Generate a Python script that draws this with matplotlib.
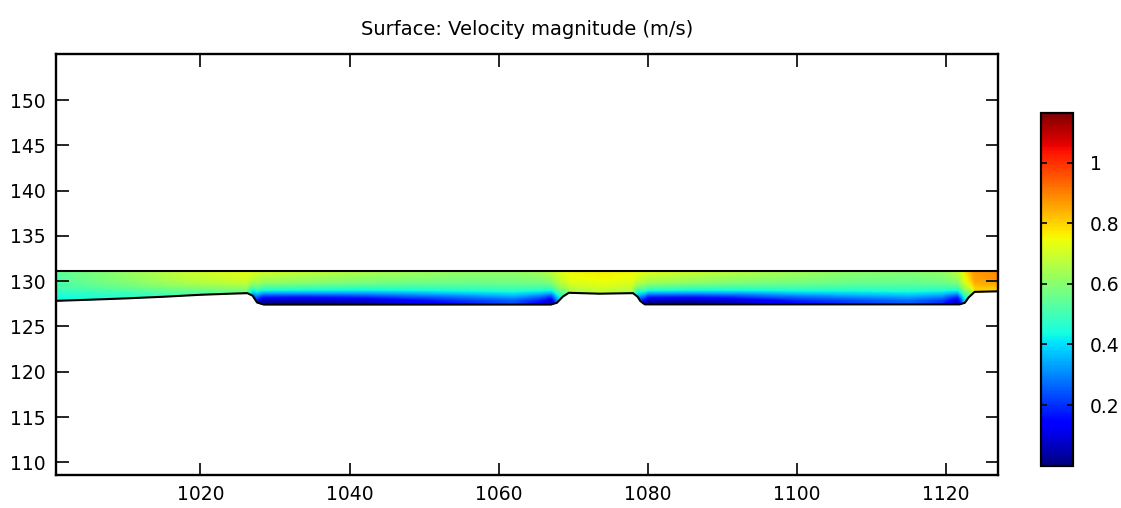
import numpy as np
import matplotlib
matplotlib.use("Agg")
import matplotlib.pyplot as plt

plt.rcParams['font.family'] = ['DejaVu Sans']

# ---- geometry of the channel (m) ----
bed_x = [1000.6, 1005, 1010, 1015, 1020, 1024, 1026.3, 1027.0, 1027.6, 1028.5,
         1067.0, 1067.8, 1068.6, 1069.4, 1073.5, 1078.0, 1078.6, 1079.0, 1079.6,
         1121.8, 1122.5, 1123.0, 1123.8, 1126.9]
bed_y = [127.83, 127.95, 128.1, 128.28, 128.5, 128.62, 128.68, 128.4, 127.65, 127.42,
         127.42, 127.62, 128.3, 128.72, 128.62, 128.68, 128.3, 127.8, 127.44,
         127.44, 127.62, 128.2, 128.82, 128.88]
surface_y = 131.15

# ---- velocity magnitude (m/s) read along the channel ----
ctrl_x = [1000.6, 1010, 1018, 1024, 1026.3, 1027.5, 1028.5, 1034, 1042, 1048, 1056,
          1062, 1065.5, 1067, 1068.2, 1069.5, 1074, 1078, 1079, 1080, 1086, 1092,
          1100, 1108, 1115, 1119.5, 1121.5, 1122.5, 1123.8, 1126.9]
u_surface = [0.54, 0.62, 0.69, 0.72, 0.73, 0.72, 0.71, 0.69, 0.66, 0.64, 0.62,
             0.62, 0.64, 0.68, 0.72, 0.75, 0.76, 0.75, 0.74, 0.73, 0.70, 0.67,
             0.64, 0.61, 0.60, 0.62, 0.68, 0.77, 0.87, 0.89]
u_bottom = [0.43, 0.46, 0.52, 0.56, 0.57, 0.20, 0.00, 0.00, 0.04, 0.10, 0.18,
            0.23, 0.14, 0.04, 0.45, 0.65, 0.68, 0.65, 0.25, 0.00, 0.00, 0.05,
            0.15, 0.21, 0.25, 0.19, 0.04, 0.40, 0.79, 0.80]

# vertical profile shape (fraction of depth above bed -> blend factor)
eta_pts = [0.0, 0.12, 0.28, 0.45, 0.65, 1.0]
shape_pts = [0.0, 0.05, 0.33, 0.65, 0.86, 1.0]

x_ticks = [1020, 1040, 1060, 1080, 1100, 1120]
y_ticks = [110, 115, 120, 125, 130, 135, 140, 145, 150]
cb_ticks = [0.2, 0.4, 0.6, 0.8, 1.0]
cb_labels = ['0.2', '0.4', '0.6', '0.8', '1']
v_min, v_max = 0.0, 1.165

fig = plt.figure(figsize=(11.21, 5.08), dpi=100)
ax = fig.add_axes([0.0497, 0.065, 0.8403, 0.828])

xs = np.linspace(bed_x[0], bed_x[-1], 1600)
bed = np.interp(xs, bed_x, bed_y)
eta = np.linspace(0, 1, 150)
X = np.tile(xs, (len(eta), 1))
Y = bed[None, :] + eta[:, None] * (surface_y - bed[None, :])
us = np.interp(xs, ctrl_x, u_surface)
ub = np.interp(xs, ctrl_x, u_bottom)
g = np.interp(eta, eta_pts, shape_pts)
U = ub[None, :] + (us - ub)[None, :] * g[:, None]

pcm = ax.pcolormesh(X, Y, U, cmap='jet', vmin=v_min, vmax=v_max,
                    shading='gouraud', rasterized=True)
ax.plot(bed_x, bed_y, color='black', lw=1.5)
ax.plot([bed_x[0], bed_x[-1]], [surface_y, surface_y], color='black', lw=1.5)

ax.set_xlim(1000.6, 1126.9)
ax.set_ylim(108.6, 155.05)
ax.set_xticks(x_ticks)
ax.set_yticks(y_ticks)
ax.tick_params(direction='in', top=True, right=True, length=9, width=1.2,
               labelsize=13.5, pad=7)
for s in ax.spines.values():
    s.set_linewidth(1.7)
ax.set_title('Surface: Velocity magnitude (m/s)', fontsize=14, pad=14)

cax = fig.add_axes([0.9287, 0.0833, 0.0288, 0.695])
cb = fig.colorbar(pcm, cax=cax, ticks=cb_ticks)
cb.set_ticklabels(cb_labels)
cax.tick_params(direction='in', left=True, right=True, length=4.3, width=1.2,
                labelsize=13.5, pad=12)
cb.outline.set_linewidth(1.6)

fig.savefig('out.png', dpi=100)
